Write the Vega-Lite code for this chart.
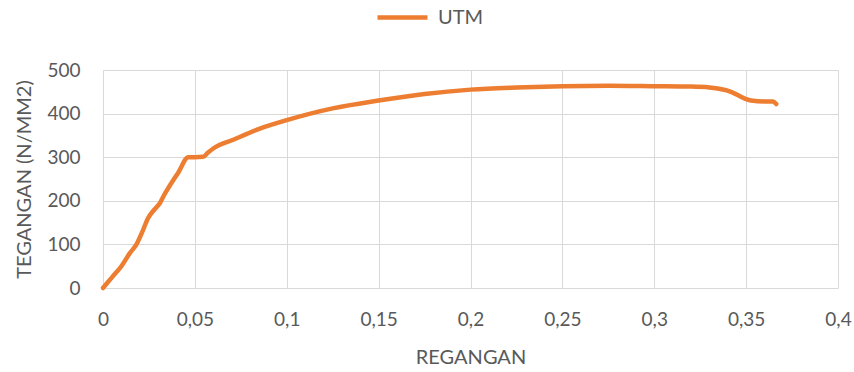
{
  "$schema": "https://vega.github.io/schema/vega-lite/v6.json",
  "width": 735,
  "height": 218,
  "autosize": {"type": "none"},
  "padding": {"left": 103, "top": 70, "right": 16, "bottom": 84},
  "background": "white",
  "config": {
    "font": "Lato",
    "view": {"stroke": null},
    "axis": {"labelFont": "Lato", "titleFont": "Lato", "labelColor": "#595959", "titleColor": "#595959", "labelFontSize": 19, "titleFontSize": 20, "titleFontWeight": "normal", "gridColor": "#d9d9d9", "gridWidth": 1, "domain": false, "ticks": false, "labelFlush": false}
  },
  "data": {"values": [
    {"strain": 0, "stress": 0, "series": "UTM"},
    {"strain": 0.005, "stress": 25, "series": "UTM"},
    {"strain": 0.01, "stress": 50, "series": "UTM"},
    {"strain": 0.0146, "stress": 80, "series": "UTM"},
    {"strain": 0.0182, "stress": 100, "series": "UTM"},
    {"strain": 0.0215, "stress": 130, "series": "UTM"},
    {"strain": 0.0245, "stress": 160, "series": "UTM"},
    {"strain": 0.028, "stress": 180, "series": "UTM"},
    {"strain": 0.031, "stress": 195, "series": "UTM"},
    {"strain": 0.0335, "stress": 215, "series": "UTM"},
    {"strain": 0.0355, "stress": 229, "series": "UTM"},
    {"strain": 0.041, "stress": 265, "series": "UTM"},
    {"strain": 0.0464, "stress": 300, "series": "UTM"},
    {"strain": 0.05, "stress": 300, "series": "UTM"},
    {"strain": 0.0545, "stress": 301, "series": "UTM"},
    {"strain": 0.057, "stress": 310, "series": "UTM"},
    {"strain": 0.06, "stress": 320, "series": "UTM"},
    {"strain": 0.0709, "stress": 340, "series": "UTM"},
    {"strain": 0.085, "stress": 365, "series": "UTM"},
    {"strain": 0.1, "stress": 385, "series": "UTM"},
    {"strain": 0.125, "stress": 412, "series": "UTM"},
    {"strain": 0.15, "stress": 430, "series": "UTM"},
    {"strain": 0.175, "stress": 445, "series": "UTM"},
    {"strain": 0.2, "stress": 455, "series": "UTM"},
    {"strain": 0.225, "stress": 460, "series": "UTM"},
    {"strain": 0.25, "stress": 463, "series": "UTM"},
    {"strain": 0.275, "stress": 464, "series": "UTM"},
    {"strain": 0.3, "stress": 463, "series": "UTM"},
    {"strain": 0.32, "stress": 462, "series": "UTM"},
    {"strain": 0.33, "stress": 460, "series": "UTM"},
    {"strain": 0.3418, "stress": 450, "series": "UTM"},
    {"strain": 0.349, "stress": 435, "series": "UTM"},
    {"strain": 0.3527, "stress": 430, "series": "UTM"},
    {"strain": 0.36, "stress": 428, "series": "UTM"},
    {"strain": 0.3645, "stress": 428, "series": "UTM"},
    {"strain": 0.3664, "stress": 422, "series": "UTM"}
  ]},
  "mark": {"type": "line", "interpolate": "monotone", "strokeWidth": 4.5, "strokeCap": "round", "strokeJoin": "round"},
  "encoding": {
    "x": {"field": "strain", "type": "quantitative", "title": "REGANGAN",
      "scale": {"domain": [0, 0.4], "nice": false},
      "axis": {"values": [0, 0.05, 0.1, 0.15, 0.2, 0.25, 0.3, 0.35, 0.4], "labelExpr": "replace(format(datum.value, '.2~f'), '.', ',')", "labelPadding": 22, "titlePadding": 18}},
    "y": {"field": "stress", "type": "quantitative", "title": "TEGANGAN (N/MM2)",
      "scale": {"domain": [0, 500], "nice": false},
      "axis": {"values": [0, 100, 200, 300, 400, 500], "labelPadding": 23, "titlePadding": 12}},
    "color": {"field": "series", "type": "nominal", "scale": {"range": ["#ED7D31"]},
      "legend": {"title": null, "orient": "none", "legendX": 272, "legendY": -80, "symbolType": "stroke", "symbolSize": 2500, "symbolStrokeWidth": 4.5, "labelFontSize": 20, "labelColor": "#595959", "labelFont": "Lato", "labelOffset": 8}}
  }
}
